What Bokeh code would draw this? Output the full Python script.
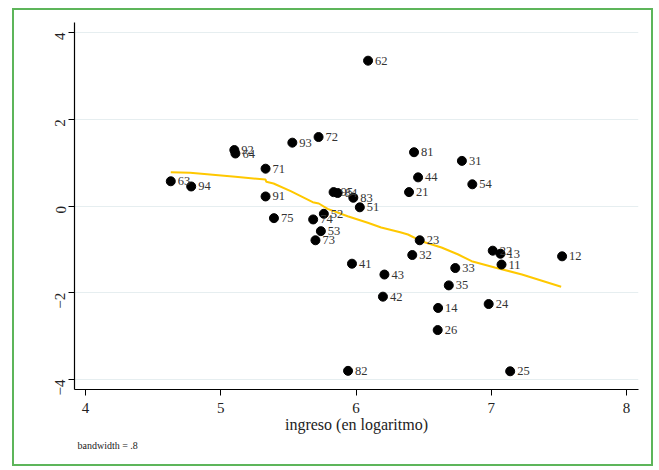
from bokeh.plotting import figure
from bokeh.models import ColumnDataSource, Range1d, FixedTicker, Title
from bokeh.embed import file_html
from bokeh.resources import INLINE
import math

# point data (ingreso in log, residual) with region codes
codes = ["62", "72", "93", "92", "64", "81", "31", "71", "44", "54", "63", "94",
         "21", "95", "84", "83", "51", "91", "52", "74", "75", "53", "73", "23",
         "32", "22", "13", "11", "12", "41", "43", "33", "35", "42", "14", "24",
         "26", "82", "25"]
x_vals = [6.089, 5.723, 5.529, 5.100, 5.108, 6.429, 6.783, 5.331, 6.459, 6.860, 4.630, 4.781,
          6.392, 5.834, 5.864, 5.980, 6.028, 5.331, 5.762, 5.683, 5.393, 5.740, 5.700, 6.471,
          6.416, 7.011, 7.068, 7.076, 7.524, 5.970, 6.210, 6.734, 6.686, 6.199, 6.607, 6.981,
          6.604, 5.941, 7.140]
y_vals = [3.35, 1.59, 1.46, 1.29, 1.21, 1.24, 1.04, 0.86, 0.66, 0.50, 0.57, 0.45,
          0.32, 0.32, 0.30, 0.19, -0.03, 0.22, -0.18, -0.31, -0.28, -0.58, -0.79, -0.79,
          -1.13, -1.03, -1.10, -1.35, -1.16, -1.33, -1.58, -1.43, -1.83, -2.09, -2.35, -2.26,
          -2.86, -3.80, -3.81]

# lowess smooth (bandwidth = .8)
lx = [4.630, 4.773, 5.108, 5.331, 5.336, 5.390, 5.517, 5.680, 5.725, 5.790, 5.938,
      6.087, 6.186, 6.327, 6.384, 6.483, 6.632, 6.756, 6.855, 7.026, 7.227, 7.517]
ly = [0.779, 0.765, 0.673, 0.611, 0.558, 0.518, 0.341, 0.088, 0.058, -0.065, -0.235,
      -0.387, -0.495, -0.604, -0.657, -0.811, -0.956, -1.118, -1.272, -1.417, -1.578, -1.862]

x_ticks = [4, 5, 6, 7, 8]
y_ticks = [-4, -2, 0, 2, 4]

FONT = "Liberation Serif"

p = figure(width=641, height=458, output_backend="svg", toolbar_location=None,
           x_range=Range1d(3.918, 8.089), y_range=Range1d(-4.23, 4.23),
           min_border_left=60, min_border_right=17, min_border_top=12, min_border_bottom=79,
           margin=(8, 0, 0, 12),
           styles={"border": "2px solid #5db55a", "box-sizing": "border-box"})
p.outline_line_color = None
p.background_fill_color = "white"
p.border_fill_color = "white"

src = ColumnDataSource(dict(x=x_vals, y=y_vals, code=codes))

p.line(lx, ly, line_color="#FFC800", line_width=2)
p.scatter("x", "y", source=src, size=9, fill_color="black", line_color="black")
p.text("x", "y", text="code", source=src, x_offset=7, text_baseline="middle",
       text_align="left", text_font_size="12.5px", text_color="#333333",
       text_font={"value": FONT})

p.xgrid.visible = False
p.ygrid.ticker = FixedTicker(ticks=y_ticks)
p.ygrid.grid_line_color = "#e6eef0"
p.ygrid.grid_line_width = 1.2

p.xaxis.ticker = FixedTicker(ticks=x_ticks)
p.yaxis.ticker = FixedTicker(ticks=y_ticks)
for ax in (p.xaxis[0], p.yaxis[0]):
    ax.axis_line_color = "black"
    ax.axis_line_width = 1.2
    ax.major_tick_line_color = "black"
    ax.major_tick_out = 6
    ax.major_tick_in = 0
    ax.minor_tick_line_color = None
    ax.major_label_text_font = FONT
    ax.major_label_text_font_size = "15px"
    ax.major_label_text_color = "#222222"

p.xaxis.axis_label = "ingreso (en logaritmo)"
p.xaxis.axis_label_text_font = FONT
p.xaxis.axis_label_text_font_size = "16px"
p.xaxis.axis_label_text_font_style = "normal"
p.xaxis.axis_label_text_color = "#222222"
p.xaxis.axis_label_standoff = 0
p.xaxis.major_label_standoff = 7

p.yaxis.major_label_orientation = math.pi / 2
p.yaxis.major_label_standoff = 8

note = Title(text="bandwidth = .8", align="left", offset=3, text_font=FONT,
             text_font_size="10px", text_font_style="normal", text_color="#222222",
             standoff=5)
p.add_layout(note, "below")

open("out.html", "w").write(file_html(p, INLINE))
